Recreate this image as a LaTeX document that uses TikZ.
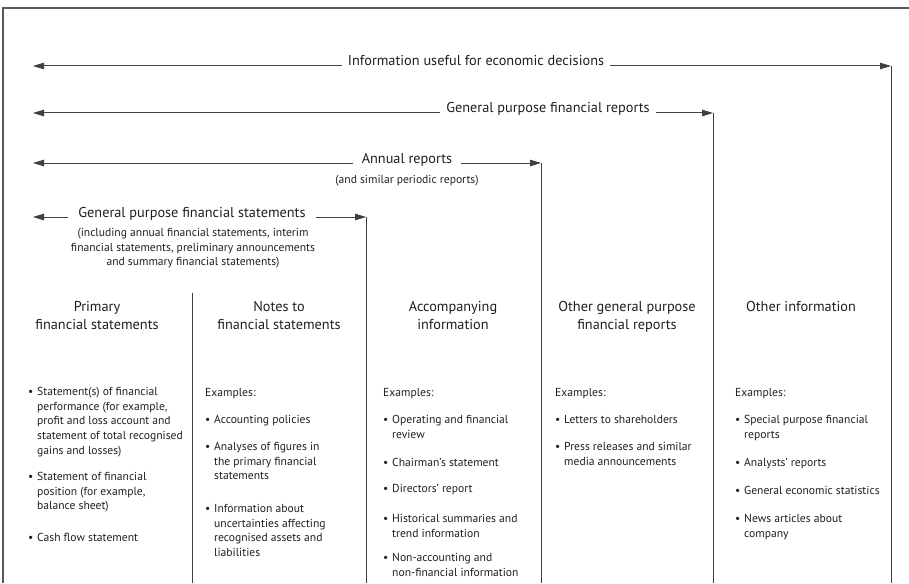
\documentclass[tikz,border=0pt]{standalone}
\usepackage{fontspec}
\setmainfont{PT Sans}
\usetikzlibrary{arrows.meta}
\tikzset{
  ln/.style={line width=1pt, draw=black!75},
  arr/.style={ln, -{Triangle[length=11pt,width=6.5pt]}},
  lab/.style={inner xsep=6pt, inner ysep=0pt, anchor=base, text=black!88, font=\fontsize{14.3}{17}\selectfont},
  sub/.style={inner sep=0pt, align=center, text=black!88, font=\fontsize{11.6}{14.6}\selectfont},
  head/.style={inner sep=0pt, anchor=north, align=center, text=black!88, font=\fontsize{14.3}{18}\selectfont},
  itm/.style={inner sep=0pt, anchor=north west, align=left, text=black!88, font=\fontsize{11.6}{14.7}\selectfont}
}
\newcommand\bul{\makebox[9pt][l]{\textbullet}}
\newcommand\ind{\hspace*{9pt}}
\begin{document}
\begin{tikzpicture}[x=1pt,y=-1pt]
\useasboundingbox (0,0) rectangle (909,583);
% frame
\draw[line width=1.6pt, draw=black!65] (909,8) -- (3,8) -- (3,583);
% level coordinates
\coordinate (L1) at (33,66);  \coordinate (R1) at (891,66);  \coordinate (B1) at (891,583);
\coordinate (L2) at (33,113); \coordinate (R2) at (713,113); \coordinate (B2) at (713,583);
\coordinate (L3) at (33,163); \coordinate (R3) at (541,163); \coordinate (B3) at (541,583);
\coordinate (L4) at (33,217); \coordinate (R4) at (366,217); \coordinate (B4) at (366,583);
\coordinate (T5) at (192,293); \coordinate (B5) at (192,583);
% labels
\node[lab] (t1) at (476,66) {Information useful for economic decisions};
\node[lab] (t2) at (548,113) {General purpose financial reports};
\node[lab, inner xsep=9pt] (t3) at (407,163) {Annual reports};
\node[sub, anchor=base] (s3) at (407,183) {(and similar periodic reports)};
\node[lab, inner xsep=10pt] (t4) at (192,217) {General purpose financial statements};
\node[sub, anchor=north] (s4) at (193,228) {(including annual financial statements, interim\\financial statements, preliminary announcements\\and summary financial statements)};
% arrows
\draw[arr] (t1.base west) -- (L1); \draw[arr] (t1.base east) -- (R1); \draw[ln] (R1) -- (B1);
\draw[arr] (t2.base west) -- (L2); \draw[arr] (t2.base east) -- (R2); \draw[ln] (R2) -- (B2);
\draw[arr] (t3.base west) -- (L3); \draw[arr] (t3.base east) -- (R3); \draw[ln] (R3) -- (B3);
\draw[arr] (t4.base west) -- (L4); \draw[arr] (t4.base east) -- (R4); \draw[ln] (R4) -- (B4);
\draw[ln] (T5) -- (B5);
% column heads
\node[head] (h1) at (97,301) {Primary\\financial statements};
\node[head] (h2) at (279,301) {Notes to\\financial statements};
\node[head] (h3) at (453,301) {Accompanying\\information};
\node[head] (h4) at (627,301) {Other general purpose\\financial reports};
\node[head] (h5) at (801,301) {Other information};
% column 1
\node[itm] (c1a) at (28,387) {\bul Statement(s) of financial\\\ind performance (for example,\\\ind profit and loss account and\\\ind statement of total recognised\\\ind gains and losses)};
\node[itm] (c1b) at (28,472) {\bul Statement of financial\\\ind position (for example,\\\ind balance sheet)};
\node[itm] (c1c) at (28,533) {\bul Cash flow statement};
% column 2
\node[itm] (c2e) at (205,388) {Examples:};
\node[itm] (c2a) at (205,415) {\bul Accounting policies};
\node[itm] (c2b) at (205,442) {\bul Analyses of figures in\\\ind the primary financial\\\ind statements};
\node[itm] (c2c) at (205,504) {\bul Information about\\\ind uncertainties affecting\\\ind recognised assets and\\\ind liabilities};
% column 3
\node[itm] (c3e) at (383,388) {Examples:};
\node[itm] (c3a) at (383,415) {\bul Operating and financial\\\ind review};
\node[itm] (c3b) at (383,458) {\bul Chairman’s statement};
\node[itm] (c3c) at (383,484) {\bul Directors’ report};
\node[itm] (c3d) at (383,514) {\bul Historical summaries and\\\ind trend information};
\node[itm] (c3f) at (383,553) {\bul Non-accounting and\\\ind non-financial information};
% column 4
\node[itm] (c4e) at (555,388) {Examples:};
\node[itm] (c4a) at (555,415) {\bul Letters to shareholders};
\node[itm] (c4b) at (555,442) {\bul Press releases and similar\\\ind media announcements};
% column 5
\node[itm] (c5e) at (735,388) {Examples:};
\node[itm] (c5a) at (735,415) {\bul Special purpose financial\\\ind reports};
\node[itm] (c5b) at (735,458) {\bul Analysts’ reports};
\node[itm] (c5c) at (735,486) {\bul General economic statistics};
\node[itm] (c5d) at (735,514) {\bul News articles about\\\ind company};
\end{tikzpicture}
\end{document}
